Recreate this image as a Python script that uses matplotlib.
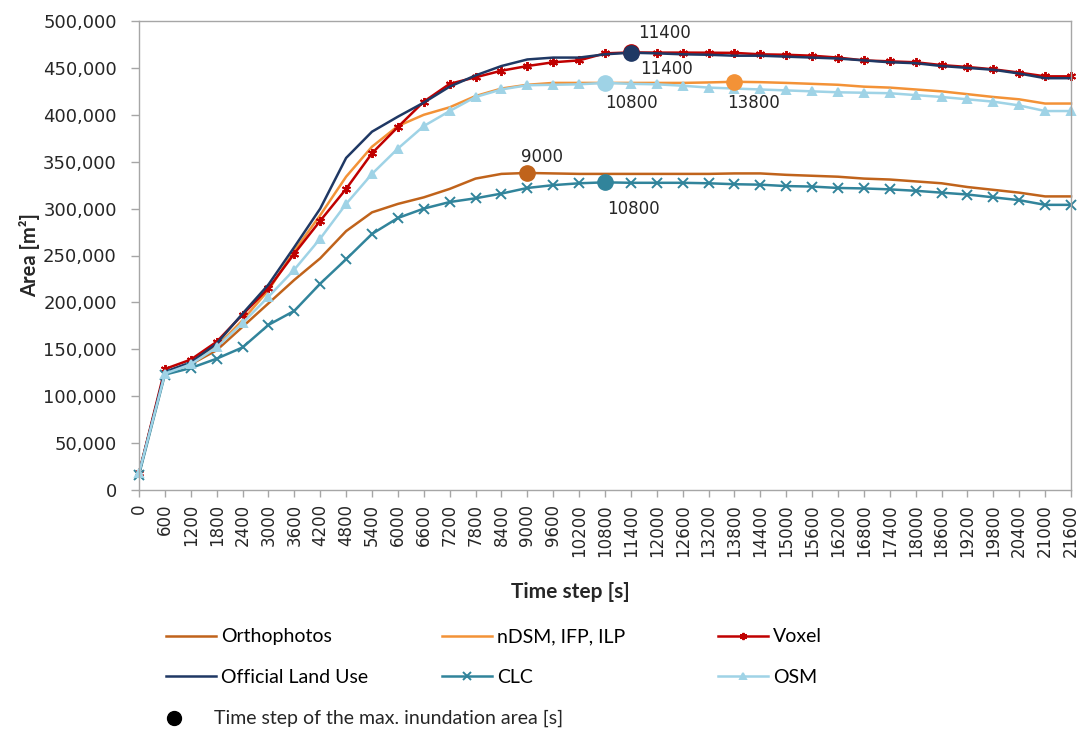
import numpy as np
import matplotlib
matplotlib.use('Agg')
import matplotlib.pyplot as plt
from matplotlib.lines import Line2D
from matplotlib.ticker import FuncFormatter, MultipleLocator

# Zeitschritte [s]
time_steps = [0, 600, 1200, 1800, 2400, 3000, 3600, 4200, 4800, 5400, 6000,
              6600, 7200, 7800, 8400, 9000, 9600, 10200, 10800, 11400, 12000,
              12600, 13200, 13800, 14400, 15000, 15600, 16200, 16800, 17400,
              18000, 18600, 19200, 19800, 20400, 21000, 21600]

# Ueberflutete Flaeche [m2]
orthophotos = [18000, 125000, 134000, 149000, 174000, 199000, 224000, 247000,
               276000, 296000, 305000, 312000, 321000, 332000, 337000, 338000,
               337500, 337000, 337000, 337000, 337000, 337000, 337000, 337500,
               337500, 336000, 335000, 334000, 332000, 331000, 329000, 327000,
               323000, 320000, 317000, 313000, 313000]
ndsm = [18000, 125000, 135000, 153000, 181000, 213000, 255000, 293000, 334000,
        366000, 388000, 400000, 408000, 420000, 428000, 432000, 434000, 434000,
        434000, 434000, 434000, 434000, 434500, 435200, 434800, 434000, 433000,
        432000, 430000, 429000, 427000, 425000, 422000, 419000, 416500, 412000,
        412000]
voxel = [18000, 129000, 139000, 158000, 187000, 215000, 252000, 287000, 321000,
         359000, 387000, 414000, 433000, 440000, 447000, 452000, 456000, 458000,
         465500, 466500, 466300, 466300, 466200, 466000, 464500, 464000, 463000,
         461000, 458000, 457000, 456000, 453000, 451000, 448500, 445000, 441000,
         441000]
official = [18000, 126000, 136000, 156000, 188000, 219000, 259000, 300000,
            354000, 382000, 398000, 413000, 430000, 442000, 452000, 459000,
            461000, 461000, 464500, 466200, 465500, 464500, 464000, 463000,
            463000, 462000, 461000, 460000, 458000, 456000, 455000, 452000,
            450000, 448000, 444000, 439000, 439000]
clc = [16000, 123000, 130000, 140000, 152000, 176000, 191000, 220000, 246000,
       273000, 290000, 300000, 307000, 311000, 316000, 322000, 325000, 327000,
       328000, 327500, 327500, 327500, 327000, 326000, 325500, 324000, 323500,
       322000, 321500, 320500, 319000, 317000, 315000, 312000, 309000, 304000,
       304000]
osm = [18000, 124000, 134000, 152000, 178000, 206000, 235000, 268000, 305000,
       337000, 364000, 388000, 404000, 419000, 427000, 431500, 432000, 432500,
       434000, 433000, 432500, 431000, 429000, 428000, 427000, 426000, 425000,
       424000, 423500, 423000, 421000, 419000, 416500, 414000, 410000, 404000,
       404000]

series = [
    # name, data, color, marker, label offset of max point (pixels)
    ('Orthophotos', orthophotos, '#C0631B', None, (-6, 16)),
    ('nDSM, IFP, ILP', ndsm, '#F39237', None, (-7, -21)),
    ('Voxel', voxel, '#C00000', (6, 2, 0), (9, -17)),
    ('Official Land Use', official, '#1F3864', None, (7, 20)),
    ('CLC', clc, '#31849B', 'x', (2, -27)),
    ('OSM', osm, '#9FD3E6', '^', (0, -20)),
]

fig = plt.figure(figsize=(10.82, 7.29), dpi=100)
ax = fig.add_axes([139 / 1082, 1 - 490 / 729, 932 / 1082, 469 / 729])

x = np.arange(len(time_steps))
handles = []
for name, data, color, marker, off in series:
    ms = 5.5 if marker == '^' else 6.5
    line, = ax.plot(x, data, color=color, lw=1.8, marker=marker, ms=ms,
                    mew=1.4, clip_on=False, label=name)
    handles.append(line)

# Maximum markieren
for name, data, color, marker, off in series:
    i = int(np.argmax(data))
    zo = 6 if name == 'Official Land Use' else 5
    ax.plot(i, data[i], 'o', ms=11, color=color, zorder=zo, clip_on=False)
    ax.annotate(str(time_steps[i]), (i, data[i]), xytext=off,
                textcoords='offset pixels', ha='left', va='center',
                fontsize=12, color='#262626', zorder=7)

ax.set_xlim(0, len(time_steps) - 1)
ax.set_ylim(0, 500000)
ax.yaxis.set_major_locator(MultipleLocator(50000))
ax.yaxis.set_major_formatter(FuncFormatter(lambda v, p: f'{int(v):,}'))
ax.set_xticks(x)
ax.set_xticklabels([str(t) for t in time_steps], rotation=90)

for s in ax.spines.values():
    s.set_color('#A6A6A6')
    s.set_linewidth(1.0)
ax.tick_params(axis='y', length=6, width=1, color='#A6A6A6', pad=10,
               labelsize=13, labelcolor='#262626')
ax.tick_params(axis='x', length=5, width=1, color='#A6A6A6', pad=5,
               labelsize=12, labelcolor='#262626')

lab_font = {'family': ['Lato', 'DejaVu Sans'], 'size': 14}
fig.text(30 / 1082, 1 - 255 / 729, 'Area [m²]', rotation=90, ha='center',
         va='center', fontweight='bold', color='#262626',
         family=['Lato', 'DejaVu Sans'], size=14.5)
fig.text(570 / 1082, 1 - 592 / 729, 'Time step [s]', ha='center',
         va='center', fontweight='bold', color='#262626',
         family=['Lato', 'DejaVu Sans'], size=15)

# Legende, drei Spalten
col_x = [166, 442, 718]
for c in range(3):
    hh = [handles[c], handles[c + 3]]
    fig.legend(hh, [h.get_label() for h in hh], loc='center left',
               bbox_to_anchor=(col_x[c] / 1082, 1 - 657 / 729),
               frameon=False, borderpad=0, borderaxespad=0,
               handlelength=2.55, handletextpad=0.3, labelspacing=1.2,
               prop=lab_font, markerscale=0.8)

fig.add_artist(Line2D([174 / 1082], [1 - 718 / 729], marker='o', ms=10,
                      color='black', transform=fig.transFigure))
fig.text(214 / 1082, 1 - 718 / 729, 'Time step of the max. inundation area [s]',
         ha='left', va='center', color='#262626', **lab_font)

fig.savefig('out.png', dpi=100)
